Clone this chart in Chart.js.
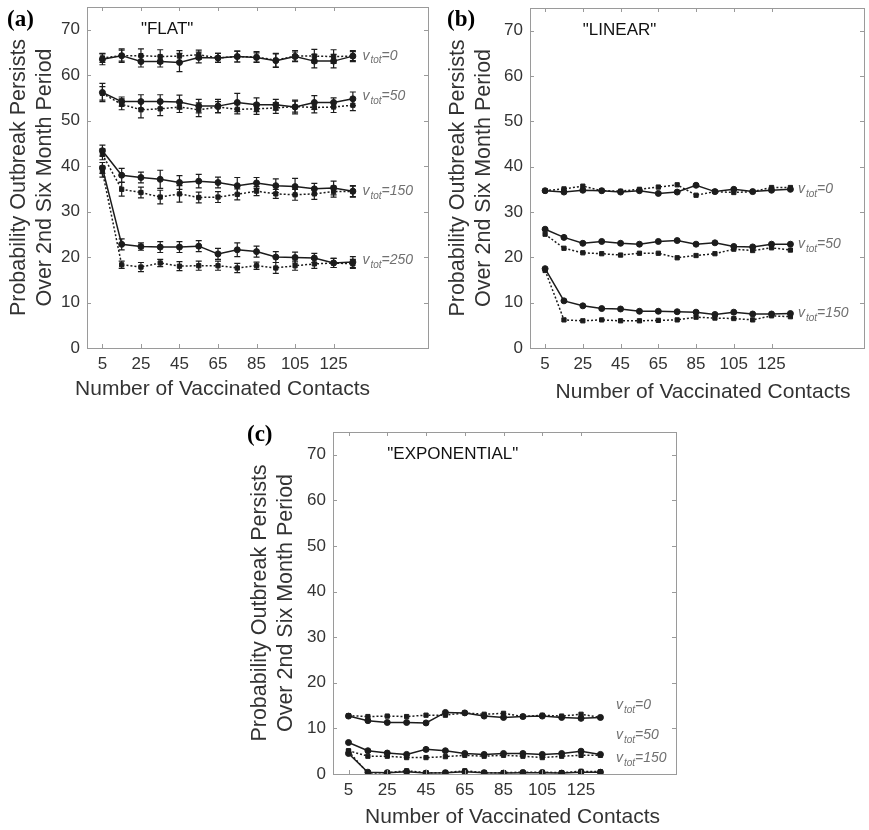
<!DOCTYPE html>
<html>
<head>
<meta charset="utf-8">
<script src="https://cdn.jsdelivr.net/npm/chart.js@4.4.0/dist/chart.umd.min.js"></script>
<style>
  body { margin: 0; background: #fff; width: 869px; height: 830px; position: relative; overflow: hidden; }
  canvas { position: absolute; }
</style>
</head>
<body>
<canvas id="panelA" width="440" height="400" style="left:0;top:0"></canvas>
<canvas id="panelB" width="429" height="404" style="left:440px;top:0"></canvas>
<canvas id="panelC" width="500" height="430" style="left:240px;top:400px"></canvas>

<script>
// ===============================
// DATA
// ===============================
const contacts = [5, 15, 25, 35, 45, 55, 65, 75, 85, 95, 105, 115, 125, 135];
const xTicks = [5, 25, 45, 65, 85, 105, 125];
const yTicks = [0, 10, 20, 30, 40, 50, 60, 70];

// (a) "FLAT"
const flatV0Solid   = [63.5, 64.3, 63.0, 63.0, 62.8, 63.9, 63.8, 64.1, 63.9, 63.2, 64.1, 63.1, 63.1, 64.2];
const flatV0Dotted  = [63.8, 64.3, 64.3, 64.1, 64.2, 64.5, 63.8, 64.1, 64.0, 63.3, 64.2, 64.2, 64.1, 64.2];
const flatV50Solid  = [56.2, 54.2, 54.2, 54.2, 54.1, 53.2, 53.2, 54.0, 53.5, 53.5, 53.0, 54.0, 54.0, 54.8];
const flatV50Dotted = [56.0, 53.6, 52.4, 52.6, 53.0, 52.4, 53.0, 52.5, 52.6, 52.8, 53.1, 52.9, 53.0, 53.4];
const flatV150Solid  = [43.4, 38.0, 37.5, 37.1, 36.4, 36.7, 36.4, 35.7, 36.3, 35.7, 35.5, 35.0, 35.2, 34.5];
const flatV150Dotted = [42.6, 34.9, 34.2, 33.2, 33.9, 33.1, 33.2, 33.8, 34.5, 33.9, 33.7, 33.9, 34.4, 34.4];
const flatV250Solid  = [39.6, 22.8, 22.3, 22.2, 22.2, 22.4, 20.7, 21.6, 21.2, 20.0, 19.9, 19.8, 18.7, 18.9];
const flatV250Dotted = [38.8, 18.3, 17.8, 18.7, 18.0, 18.1, 18.1, 17.6, 18.1, 17.6, 18.1, 18.5, 18.7, 18.5];

// half-widths of the error bars in (a)
const flatV0SolidErr   = [1.2, 1.5, 1.2, 1.2, 2.0, 1.2, 1.0, 1.2, 1.0, 1.5, 1.0, 1.5, 1.5, 1.0];
const flatV0DottedErr  = [1.0, 1.2, 1.5, 1.5, 1.2, 1.0, 1.0, 1.2, 1.2, 1.5, 1.2, 1.5, 1.5, 1.2];
const flatV50SolidErr  = [2.0, 1.0, 1.5, 1.5, 1.5, 1.5, 1.5, 2.0, 1.5, 1.2, 1.5, 1.5, 1.0, 1.5];
const flatV50DottedErr = [1.5, 1.2, 1.8, 1.5, 1.2, 1.5, 1.2, 1.0, 1.2, 1.2, 1.2, 1.2, 1.2, 1.2];
const flatV150SolidErr  = [1.2, 1.5, 1.2, 2.0, 1.5, 1.5, 1.2, 1.8, 1.2, 1.5, 1.8, 1.2, 1.5, 1.2];
const flatV150DottedErr = [1.2, 1.5, 1.2, 1.5, 1.8, 1.2, 1.2, 1.2, 1.0, 1.0, 1.2, 1.2, 1.2, 1.2];
const flatV250SolidErr  = [1.2, 1.2, 0.8, 1.2, 1.2, 1.2, 1.2, 1.5, 1.2, 1.2, 1.2, 1.0, 1.0, 1.2];
const flatV250DottedErr = [1.2, 0.8, 1.0, 0.8, 1.0, 1.0, 1.0, 1.0, 0.8, 1.2, 1.0, 1.0, 1.0, 1.0];

// (b) "LINEAR"
const linV0Solid    = [34.7, 34.4, 34.8, 34.7, 34.4, 34.7, 34.1, 34.4, 35.9, 34.5, 35.0, 34.5, 34.8, 35.0];
const linV0Dotted   = [34.7, 35.1, 35.7, 34.7, 34.6, 35.0, 35.5, 36.0, 33.7, 34.5, 34.3, 34.5, 35.4, 35.4];
const linV50Solid   = [26.2, 24.4, 23.1, 23.5, 23.1, 22.9, 23.5, 23.7, 22.9, 23.2, 22.4, 22.3, 22.9, 22.9];
const linV50Dotted  = [25.1, 22.0, 21.0, 20.8, 20.5, 20.9, 20.9, 19.9, 20.4, 20.8, 21.8, 21.5, 22.1, 21.6];
const linV150Solid  = [17.5, 10.4, 9.3, 8.7, 8.6, 8.1, 8.1, 8.0, 7.9, 7.4, 7.9, 7.5, 7.5, 7.6];
const linV150Dotted = [17.1, 6.2, 6.0, 6.2, 6.0, 6.0, 6.1, 6.2, 6.8, 6.6, 6.5, 6.2, 7.1, 6.9];

// (c) "EXPONENTIAL"
const expV0Solid    = [12.7, 11.7, 11.3, 11.3, 11.2, 13.5, 13.4, 12.7, 12.4, 12.6, 12.7, 12.4, 12.2, 12.4];
const expV0Dotted   = [12.8, 12.6, 12.7, 12.6, 12.9, 12.9, 13.4, 13.1, 13.3, 12.6, 12.9, 12.7, 13.1, 12.4];
const expV50Solid   = [6.9, 5.1, 4.6, 4.3, 5.4, 5.1, 4.5, 4.3, 4.5, 4.5, 4.3, 4.5, 5.0, 4.3];
const expV50Dotted  = [5.1, 3.9, 3.9, 3.6, 3.6, 3.8, 4.1, 3.9, 4.1, 3.9, 3.6, 3.9, 4.1, 4.1];
const expV150Solid  = [4.5, 0.4, 0.3, 0.5, 0.2, 0.3, 0.5, 0.3, 0.2, 0.3, 0.3, 0.2, 0.4, 0.4];
const expV150Dotted = [5.0, 0.2, 0.3, 0.7, 0.3, 0.3, 0.7, 0.3, 0.3, 0.4, 0.4, 0.3, 0.6, 0.5];

// v_tot labels at the right end of each pair of curves
const flatVtot = ["0", "50", "150", "250"];
const flatVtotY = [64.3, 55.3, 34.4, 19.3];
const linVtot = ["0", "50", "150"];
const linVtotY = [35.0, 23.0, 7.7];
const expVtot = ["0", "50", "150"];
const expVtotY = [15.1, 8.6, 3.5];

// ===============================
// HELPERS
// ===============================
const FONT = "'Liberation Sans', Arial, Helvetica, sans-serif";
const INK = "#1c1c1c";
const X_TITLE = "Number of Vaccinated Contacts";

function serie(valores, pontilhada, erros) {
  return {
    data: contacts.map((x, i) => ({ x: x, y: valores[i] })),
    errors: erros,
    borderColor: INK,
    backgroundColor: INK,
    borderWidth: 1.5,
    borderDash: pontilhada ? [2, 2] : [],
    pointStyle: pontilhada ? "rect" : "circle",
    pointRadius: 3,
    pointBorderWidth: 1,
    tension: 0
  };
}

function drawVtot(ctx, px, py, val) {
  ctx.save();
  ctx.fillStyle = "#707070";
  ctx.textBaseline = "middle";
  ctx.textAlign = "left";
  ctx.font = "italic 14px " + FONT;
  ctx.fillText("v", px, py);
  let w = ctx.measureText("v").width + 1;
  ctx.font = "italic 10px " + FONT;
  ctx.fillText("tot", px + w, py + 5);
  w += ctx.measureText("tot").width;
  ctx.font = "italic 14px " + FONT;
  ctx.fillText("=" + val, px + w, py);
  ctx.restore();
}

// box, inward ticks, error bars and in-plot text, MATLAB style
const matlabFrame = {
  id: "matlabFrame",
  afterDatasetsDraw(chart) {
    const { ctx, scales: { x, y } } = chart;
    chart.data.datasets.forEach(ds => {
      if (!ds.errors) return;
      ctx.save();
      ctx.strokeStyle = INK;
      ctx.lineWidth = 1.2;
      ds.data.forEach((p, i) => {
        const px = x.getPixelForValue(p.x);
        const top = y.getPixelForValue(p.y + ds.errors[i]);
        const bot = y.getPixelForValue(p.y - ds.errors[i]);
        ctx.beginPath();
        ctx.moveTo(px, top); ctx.lineTo(px, bot);
        ctx.moveTo(px - 3, top); ctx.lineTo(px + 3, top);
        ctx.moveTo(px - 3, bot); ctx.lineTo(px + 3, bot);
        ctx.stroke();
      });
      ctx.restore();
    });
  },
  afterDraw(chart, args, opts) {
    const { ctx, chartArea: a, scales: { x, y } } = chart;
    ctx.save();
    ctx.strokeStyle = "#9a9a9a";
    ctx.lineWidth = 1;
    ctx.strokeRect(a.left + 0.5, a.top + 0.5, a.right - a.left, a.bottom - a.top);
    ctx.beginPath();
    yTicks.forEach(v => {
      const py = Math.round(y.getPixelForValue(v)) + 0.5;
      ctx.moveTo(a.left, py); ctx.lineTo(a.left + 4, py);
      ctx.moveTo(a.right, py); ctx.lineTo(a.right - 4, py);
    });
    xTicks.forEach(v => {
      const px = Math.round(x.getPixelForValue(v)) + 0.5;
      ctx.moveTo(px, a.bottom); ctx.lineTo(px, a.bottom - 4);
      ctx.moveTo(px, a.top); ctx.lineTo(px, a.top + 4);
    });
    ctx.stroke();

    // "(a)" etc.
    ctx.fillStyle = "#000";
    ctx.font = "bold 23px 'Liberation Serif', 'Times New Roman', serif";
    ctx.textBaseline = "top";
    ctx.fillText(opts.painel, opts.painelX, opts.painelY);

    // scenario name
    ctx.fillStyle = "#111";
    ctx.font = "17px " + FONT;
    ctx.textBaseline = "middle";
    ctx.fillText(opts.titulo, x.getPixelForValue(25), y.getPixelForValue(70));

    // x axis title (its centre is not always the centre of the axes)
    ctx.fillStyle = "#333";
    ctx.font = "21px " + FONT;
    ctx.textAlign = "center";
    ctx.fillText(X_TITLE, (a.left + a.right) / 2 + opts.xTitleShift, a.bottom + opts.xTitleDrop);
    ctx.restore();

    opts.vtot.forEach((val, i) => {
      drawVtot(ctx, x.getPixelForValue(opts.vtotX), y.getPixelForValue(opts.vtotY[i]), val);
    });
  }
};

function criarPainel(id, datasets, cfg) {
  const ctx = document.getElementById(id).getContext("2d");
  return new Chart(ctx, {
    type: "line",
    data: { datasets: datasets },
    plugins: [matlabFrame],
    options: {
      responsive: false,
      animation: false,
      devicePixelRatio: 1,
      layout: { padding: cfg.padding },
      plugins: {
        legend: { display: false },
        tooltip: { enabled: false },
        matlabFrame: cfg.frame
      },
      scales: {
        x: {
          type: "linear",
          min: -3,
          max: 174,
          grid: { display: false, drawTicks: false },
          border: { display: false },
          afterBuildTicks: s => { s.ticks = xTicks.map(v => ({ value: v })); },
          afterFit: s => { s.height = cfg.xHeight; s.paddingLeft = 0; s.paddingRight = 0; },
          ticks: { color: "#333", font: { family: FONT, size: 17 }, padding: 6, maxRotation: 0, autoSkip: false }
        },
        y: {
          min: 0,
          max: 75,
          grid: { display: false, drawTicks: false },
          border: { display: false },
          afterBuildTicks: s => { s.ticks = yTicks.map(v => ({ value: v })); },
          afterFit: s => { s.width = cfg.yWidth; s.paddingTop = 0; s.paddingBottom = 0; },
          ticks: { color: "#333", font: { family: FONT, size: 17 }, padding: 7 },
          title: {
            display: true,
            text: ["Probability Outbreak Persists", "Over 2nd Six Month Period"],
            color: "#333",
            font: { family: FONT, size: 21.5 },
            padding: { top: cfg.yTitlePad, bottom: 0 }
          }
        }
      }
    }
  });
}

// ===============================
// PANELS
// ===============================
criarPainel("panelA", [
  serie(flatV0Solid, false, flatV0SolidErr),
  serie(flatV0Dotted, true, flatV0DottedErr),
  serie(flatV50Solid, false, flatV50SolidErr),
  serie(flatV50Dotted, true, flatV50DottedErr),
  serie(flatV150Solid, false, flatV150SolidErr),
  serie(flatV150Dotted, true, flatV150DottedErr),
  serie(flatV250Solid, false, flatV250SolidErr),
  serie(flatV250Dotted, true, flatV250DottedErr)
], {
  padding: { top: 7, right: 12, left: 0, bottom: 0 },
  xHeight: 52, yWidth: 87, yTitlePad: 6,
  frame: { painel: "(a)", painelX: 7, painelY: 9, titulo: "\"FLAT\"", vtot: flatVtot, vtotY: flatVtotY, vtotX: 140,
           xTitleShift: -35, xTitleDrop: 41 }
});

criarPainel("panelB", [
  serie(linV0Solid, false),
  serie(linV0Dotted, true),
  serie(linV50Solid, false),
  serie(linV50Dotted, true),
  serie(linV150Solid, false),
  serie(linV150Dotted, true)
], {
  padding: { top: 8, right: 1, left: 0, bottom: 0 },
  xHeight: 56, yWidth: 90, yTitlePad: 5,
  frame: { painel: "(b)", painelX: 7, painelY: 9, titulo: "\"LINEAR\"", vtot: linVtot, vtotY: linVtotY, vtotX: 139,
           xTitleShift: 6, xTitleDrop: 44 }
});

criarPainel("panelC", [
  serie(expV0Solid, false),
  serie(expV0Dotted, true),
  serie(expV50Solid, false),
  serie(expV50Dotted, true),
  serie(expV150Solid, false),
  serie(expV150Dotted, true)
], {
  padding: { top: 32, right: 64, left: 0, bottom: 0 },
  xHeight: 56, yWidth: 93, yTitlePad: 7,
  frame: { painel: "(c)", painelX: 7, painelY: 24, titulo: "\"EXPONENTIAL\"", vtot: expVtot, vtotY: expVtotY, vtotX: 143,
           xTitleShift: 8, xTitleDrop: 43 }
});
</script>
</body>
</html>
